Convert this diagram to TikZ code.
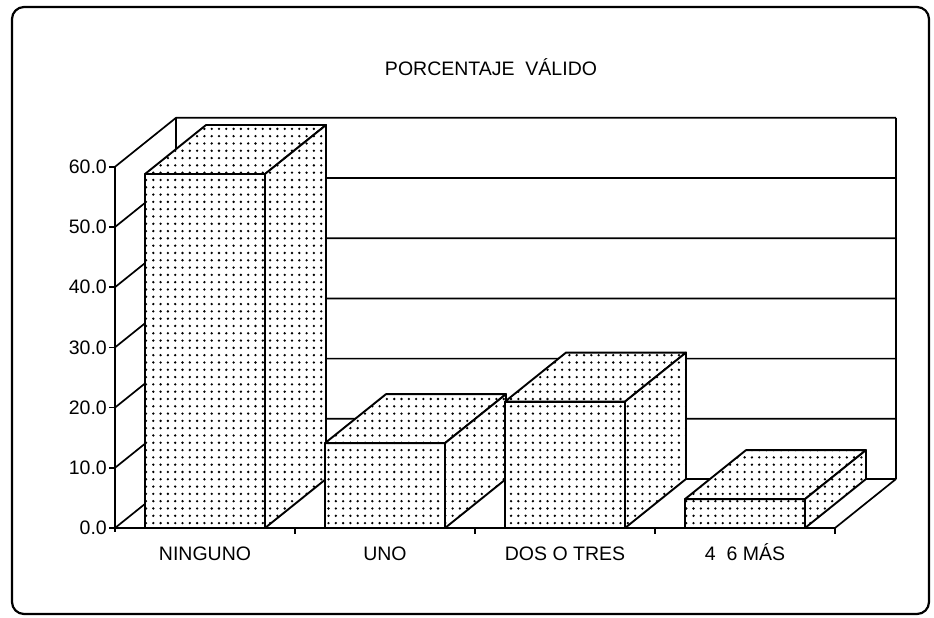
\documentclass[tikz,border=0pt]{standalone}
\usepackage{fontspec}
\setmainfont{Liberation Sans}
\usetikzlibrary{patterns}
\pgfdeclarepatternformonly{bardots}{\pgfqpoint{-1.5pt}{-1.5pt}}{\pgfqpoint{1.5pt}{1.5pt}}{\pgfqpoint{7.3pt}{7.3pt}}{\pgfpathcircle{\pgfpointorigin}{1.3pt}\pgfusepath{fill}}
\begin{document}
\begin{tikzpicture}[x=1pt,y=-1pt,line join=round]
\tikzset{
  frame/.style={line width=2.2pt, rounded corners=12pt},
  gridline/.style={line width=1.7pt},
  barface/.style={preaction={fill=white}, pattern=bardots, draw, line width=1.9pt},
  lab/.style={font=\fontsize{19.5}{22}\selectfont, inner sep=0pt},
}
\useasboundingbox (0,0) rectangle (934,618);
\draw[frame] (12,7) rectangle (929,614);
\node[lab, anchor=base] (title) at (491,76) {PORCENTAJE~~VÁLIDO};
% left wall, back wall grid, y ticks and labels
\foreach \v/\t in {0/0.0,10/10.0,20/20.0,30/30.0,40/40.0,50/50.0,60/60.0}{
  \pgfmathsetmacro\yy{528-6.02*\v}
  \draw[gridline] (115,\yy) -- ++(61,-49) -- (896,{\yy-49});
  \draw[gridline] (109,\yy) -- (115,\yy);
  \node[lab, anchor=east] (ylab\v) at (107,\yy) {\t};
}
\coordinate (bl) at (176,117.8);
\coordinate (bl0) at (176,479);
\coordinate (br) at (896,117.8);
\coordinate (br0) at (896,479);
\draw[gridline] (bl) -- (bl0);
\draw[gridline] (br) -- (br0);
% front axis and floor
\coordinate (axtop) at (115,166.8);
\coordinate (axbot) at (115,532);
\coordinate (fl) at (115,528);
\coordinate (fr) at (835,528);
\draw[gridline] (axtop) -- (axbot);
\draw[gridline] (fl) -- (fr) -- (br0);
\foreach \k in {1,...,4}{
  \draw[gridline] ({115+180*\k},528) -- ++(0,6);
}
% bars
\foreach \i/\v in {0/58.8,1/14.1,2/21,3/4.8}{
  \pgfmathsetmacro\xl{145+180*\i}
  \pgfmathsetmacro\xr{\xl+120}
  \pgfmathsetmacro\yt{528-6.02*\v}
  \path[barface] (\xl,528) rectangle (\xr,\yt);
  \path[barface] (\xl,\yt) -- ++(61,-49) -- ++(120,0) -- (\xr,\yt) -- cycle;
  \path[barface] (\xr,528) -- (\xr,\yt) -- ++(61,-49) -- ({\xr+61},479) -- cycle;
}
% category labels
\node[lab, anchor=base] (c1) at (205,560) {NINGUNO};
\node[lab, anchor=base] (c2) at (385,560) {UNO};
\node[lab, anchor=base] (c3) at (565,560) {DOS O TRES};
\node[lab, anchor=base] (c4) at (745,560) {4~~6 MÁS};
\end{tikzpicture}
\end{document}
